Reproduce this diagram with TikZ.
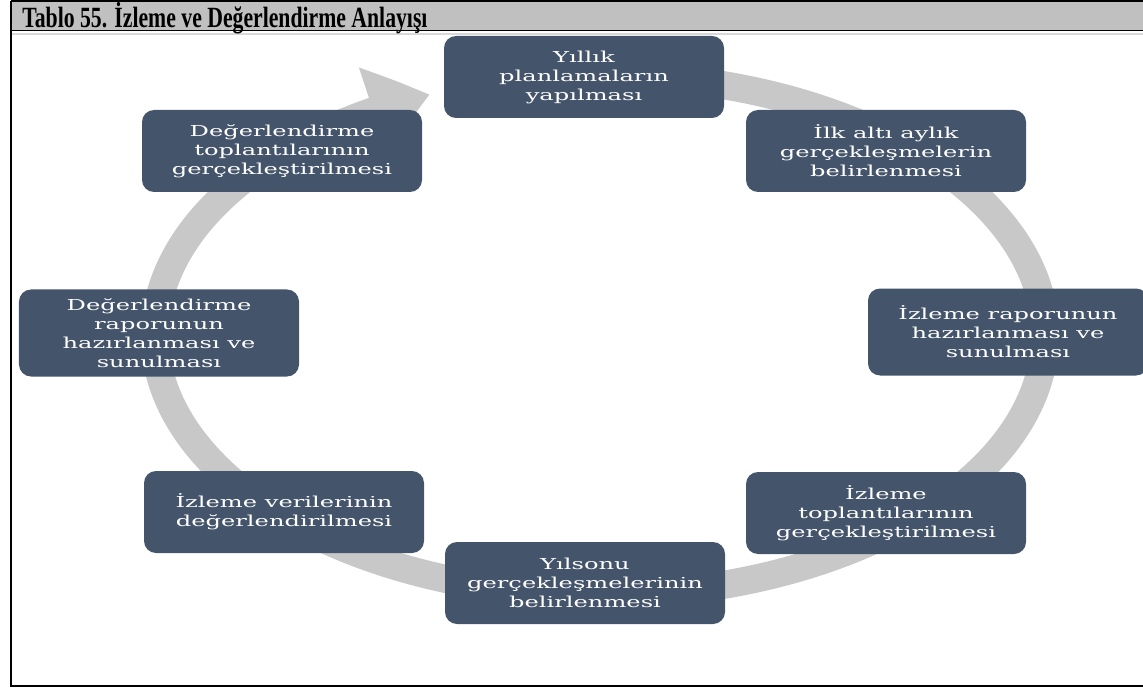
\documentclass[tikz,border=0pt]{standalone}
\usepackage{fontspec}
\setmainfont{DejaVu Serif}
\newfontfamily\boxfont[FakeStretch=1.6]{DejaVu Serif}
\newfontfamily\titlefont[FakeStretch=0.74]{Liberation Serif}
\usepackage{xcolor}
\usepackage{tikz}
\usetikzlibrary{positioning,arrows.meta,bending,calc}

\definecolor{slate}{HTML}{44546A}
\definecolor{ringgray}{RGB}{200,200,200}
\definecolor{hdrgray}{RGB}{192,192,192}

\begin{document}
\begin{tikzpicture}[
    stagebox/.style={draw=none, fill=slate, rounded corners=0.24cm, minimum width=5.6cm, minimum height=1.64cm,
      align=center, text=white, font=\boxfont\fontsize{8.6}{10.8}\selectfont, inner sep=2pt},
    tallbox/.style={stagebox, minimum height=1.74cm},
    ring/.style={line width=16pt, draw=ringgray, -{Triangle[length=34pt, width=50pt, bend]}},
    frameline/.style={line width=1.1pt, black}
]

\path[use as bounding box] (0,0) rectangle (22.86,13.76);

% header of the table
\fill[hdrgray] (0.22,13.72) rectangle (22.86,13.16);
\draw[frameline] (0.22,13.74) -- (22.86,13.74);
\draw[frameline, line width=0.8pt] (0.22,13.15) -- (22.86,13.15);
\draw[ringgray!70, line width=0.8pt] (0.22,13.08) -- (22.86,13.08);
\draw[frameline] (0.22,13.74) -- (0.22,0.04) -- (22.86,0.04);
\node[anchor=base west, inner sep=0pt, font=\titlefont\bfseries\fontsize{16.7}{18}\selectfont] (title) at (0.44,13.2)
  {Tablo 55. İzleme ve Değerlendirme Anlayışı};

% the cycle ring
\coordinate (ctr) at (12.0,7.06);
\draw[ring] ($(ctr)+(80:8.9cm and 5.2cm)$) arc[start angle=80, end angle=-247.5, x radius=8.9cm, y radius=5.2cm];

% stages, clockwise from the top
\node[stagebox] (yillik) at (11.68,12.22) {Yıllık\\planlamaların\\yapılması};
\node[stagebox] (ilkalti) at (17.72,10.74) {İlk altı aylık\\gerçekleşmelerin\\belirlenmesi};
\node[tallbox] (izrapor) at (20.16,7.12) {İzleme raporunun\\hazırlanması ve\\sunulması};
\node[stagebox] (iztop) at (17.72,3.50) {İzleme\\toplantılarının\\gerçekleştirilmesi};
\node[stagebox] (yilsonu) at (11.70,2.10) {Yılsonu\\gerçekleşmelerinin\\belirlenmesi};
\node[stagebox] (izveri) at (5.68,3.52) {İzleme verilerinin\\değerlendirilmesi};
\node[tallbox] (degrapor) at (3.18,7.10) {Değerlendirme\\raporunun\\hazırlanması ve\\sunulması};
\node[stagebox] (degtop) at (5.64,10.74) {Değerlendirme\\toplantılarının\\gerçekleştirilmesi};

\end{tikzpicture}
\end{document}
